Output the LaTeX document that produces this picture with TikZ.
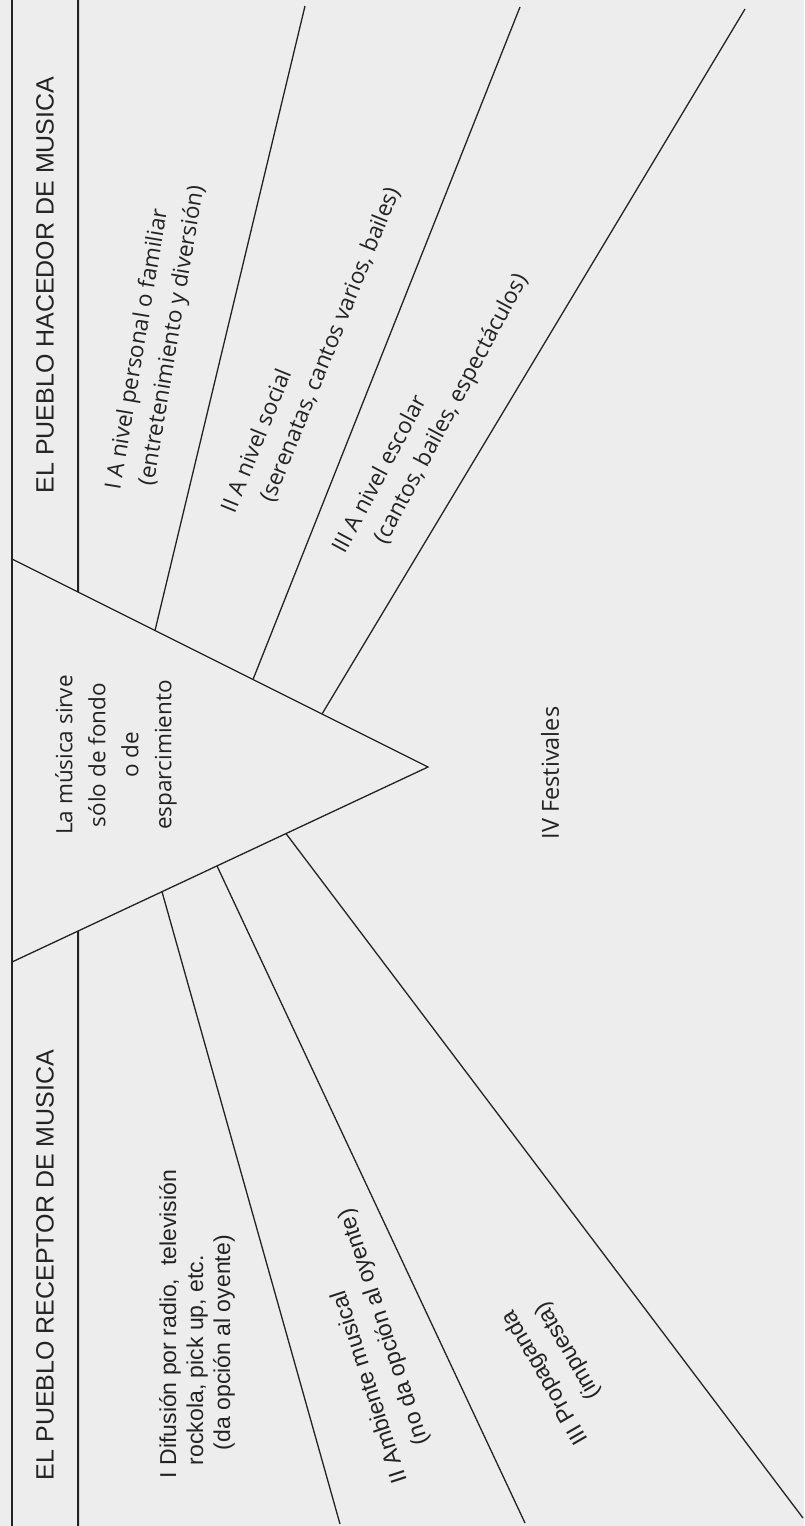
\documentclass[tikz,border=0pt]{standalone}
\usepackage{fontspec}
\newfontfamily\osf{Open Sans}
\newfontfamily\lsf{Liberation Sans}
\usetikzlibrary{calc}
\definecolor{bg}{RGB}{237,237,237}
\definecolor{ink}{RGB}{35,35,35}
\begin{document}
\begin{tikzpicture}[x=1pt,y=-1pt,
  edge/.style={draw=ink,line width=1.3pt},
  vline/.style={draw=ink,line width=2pt},
  header/.style={font=\lsf\fontsize{25}{30}\selectfont,text=ink,inner sep=0pt},
  uplabel/.style={font=\osf\fontsize{22.5}{32}\selectfont,text=ink,align=left,inner sep=0pt},
  lowlabel/.style={font=\lsf\fontsize{23}{27}\selectfont,text=ink,align=left,inner sep=0pt}]
\fill[bg] (0,0) rectangle (804,1526);
\useasboundingbox (0,0) rectangle (804,1526);
% frame coordinates
\coordinate (T0) at (12,0);
\coordinate (T1) at (12,1526);
\coordinate (V0) at (78,0);
\coordinate (V1) at (78,1526);
\coordinate (TL) at (12,559);
\coordinate (AP) at (428,767);
\coordinate (BL) at (12,962);
\coordinate (u1) at ($(TL)!0.1587!(AP)$);
\coordinate (u2) at ($(TL)!0.3438!(AP)$);
\coordinate (u3) at ($(TL)!0.5793!(AP)$);
\coordinate (u4) at ($(TL)!0.7452!(AP)$);
\coordinate (d1) at ($(BL)!0.1587!(AP)$);
\coordinate (d2) at ($(BL)!0.3606!(AP)$);
\coordinate (d3) at ($(BL)!0.4928!(AP)$);
\coordinate (d4) at ($(BL)!0.6587!(AP)$);
\coordinate (e2) at (305,6);
\coordinate (e3) at (520,7);
\coordinate (e4) at (745,9);
\coordinate (f2) at (340,1524);
\coordinate (f3) at (525,1523);
\coordinate (f4) at (803,1518);
% lines
\draw[vline] (T0) -- (T1);
\draw[vline] (V0) -- (u1);
\draw[vline] (d1) -- (V1);
\draw[edge] (TL) -- (AP) -- (BL);
\draw[edge] (u2) -- (e2);
\draw[edge] (u3) -- (e3);
\draw[edge] (u4) -- (e4);
\draw[edge] (d2) -- (f2);
\draw[edge] (d3) -- (f3);
\draw[edge] (d4) -- (f4);
% headers
\node[header,rotate=90] (hac) at (45,285) {EL PUEBLO HACEDOR DE MUSICA};
\node[header,rotate=90] (rec) at (45,1265) {EL PUEBLO RECEPTOR DE MUSICA};
% triangle text
\node[uplabel,align=center,rotate=90,font=\osf\fontsize{22.5}{33}\selectfont] (tri) at (116,755) {La música sirve\\sólo de fondo\\o de\\esparcimiento};
% upper labels
\node[uplabel,rotate=80.5] (l1) at (156,338) {I A nivel personal o familiar\\\hspace*{10pt}(entretenimiento y diversión)};
\node[uplabel,rotate=68] (l2) at (311,350) {II A nivel social\\\hspace*{24pt}(serenatas, cantos varios, bailes)};
\node[uplabel,rotate=62] (l3) at (431,414) {III A nivel escolar\\\hspace*{28pt}(cantos, bailes, espectáculos)};
\node[uplabel,rotate=90,font=\osf\fontsize{23.5}{32}\selectfont] (l4) at (550,773) {IV Festivales};
% lower labels
\node[lowlabel,rotate=90] (r1) at (197,1324) {I Difusión por radio,\ \ televisión\\\hspace*{13pt}rockola, pick up, etc.\\\hspace*{28pt}(da opción al oyente)};
\node[lowlabel,rotate=108,font=\lsf\fontsize{23}{32}\selectfont] (r2) at (374,1346) {II Ambiente musical\\\hspace*{30pt}(no da opción al oyente)};
\node[lowlabel,rotate=120,font=\lsf\fontsize{23}{33}\selectfont] (r3) at (560,1369) {III Propaganda\\\hspace*{33pt}(impuesta)};
\end{tikzpicture}
\end{document}
